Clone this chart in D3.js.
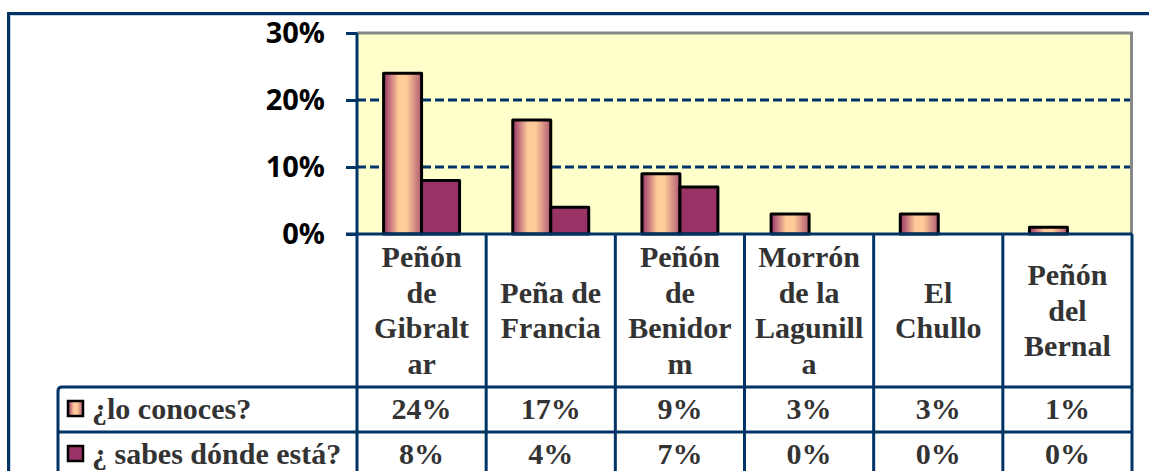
<!DOCTYPE html>
<html>
<head>
<meta charset="utf-8">
<script src="https://cdn.jsdelivr.net/npm/d3@7"></script>
<style>
  html, body { margin: 0; padding: 0; background: #fff; }
  svg { display: block; }
</style>
</head>
<body>
<div id="container"></div>
<script>
/* DATA */
const categories = ["Peñón de Gibraltar", "Peña de Francia", "Peñón de Benidorm", "Morrón de la Lagunilla", "El Chullo", "Peñón del Bernal"];
// how each category label wraps inside its cell
const categoryLines = [
  ["Peñón", "de", "Gibralt", "ar"],
  ["Peña de", "Francia"],
  ["Peñón", "de", "Benidor", "m"],
  ["Morrón", "de la", "Lagunill", "a"],
  ["El", "Chullo"],
  ["Peñón", "del", "Bernal"]
];
const seriesNames = ["¿lo conoces?", "¿ sabes dónde está?"];
const conoces = [0.24, 0.17, 0.09, 0.03, 0.03, 0.01];
const sabes = [0.08, 0.04, 0.07, 0, 0, 0];
const yTicks = [0, 0.1, 0.2, 0.3];

/* CONSTANTS */
const width = 1149, height = 471;
const plot = {left: 357, right: 1132, top: 33, bottom: 234};
const rowTops = [387, 432, 480];
const navy = "#003366";
const textGray = "#333333";
const serif = "'Liberation Serif', 'Times New Roman', serif";

const svg = d3.select("#container").append("svg")
  .attr("width", width)
  .attr("height", height);

const defs = svg.append("defs");
const grad = defs.append("linearGradient").attr("id", "peach")
  .attr("x1", "0%").attr("x2", "100%").attr("y1", "0%").attr("y2", "0%");
grad.append("stop").attr("offset", "0%").attr("stop-color", "#993366");
grad.append("stop").attr("offset", "40%").attr("stop-color", "#FFCC99");
grad.append("stop").attr("offset", "60%").attr("stop-color", "#FFCC99");
grad.append("stop").attr("offset", "100%").attr("stop-color", "#B05A72");

const seriesFill = ["url(#peach)", "#993366"];

/* SCALES */
const x0 = d3.scaleBand()
  .domain(categories)
  .range([plot.left, plot.right])
  .padding(0);

const x1 = d3.scaleBand()
  .domain(seriesNames)
  .range([0, x0.bandwidth()])
  .paddingInner(0)
  .paddingOuter(0.7);

const y = d3.scaleLinear()
  .domain([0, 0.3])
  .range([plot.bottom, plot.top]);

/* OUTER FRAME */
svg.append("path")
  .attr("d", `M8.5,${height + 5} V13.5 H${width + 5}`)
  .attr("fill", "none")
  .attr("stroke", navy)
  .attr("stroke-width", 3);
svg.append("path")
  .attr("d", `M10.5,${height + 5} V15.5 H${width + 5}`)
  .attr("fill", "none")
  .attr("stroke", "#c8d2dc")
  .attr("stroke-width", 1);

/* PLOT AREA */
svg.append("rect")
  .attr("x", plot.left)
  .attr("y", plot.top)
  .attr("width", plot.right - plot.left)
  .attr("height", plot.bottom - plot.top)
  .attr("fill", "#FFFFCC");

svg.append("path")
  .attr("d", `M${plot.left},${plot.top} H${plot.right - 0.5} V${plot.bottom}`)
  .attr("fill", "none")
  .attr("stroke", "#888888")
  .attr("stroke-width", 3);

// dashed gridlines
svg.append("g")
  .selectAll("line")
  .data(yTicks.filter(t => t > 0 && t < 0.3))
  .join("line")
  .attr("x1", plot.left)
  .attr("x2", plot.right - 2)
  .attr("y1", d => y(d))
  .attr("y2", d => y(d))
  .attr("stroke", navy)
  .attr("stroke-width", 3)
  .attr("stroke-dasharray", "9,4");

/* BARS */
const groups = svg.append("g")
  .selectAll("g")
  .data(categories)
  .join("g")
  .attr("transform", d => `translate(${x0(d)},0)`);

groups.selectAll("rect")
  .data((d, i) => [
    {s: seriesNames[0], v: conoces[i], k: 0},
    {s: seriesNames[1], v: sabes[i], k: 1}
  ].filter(e => e.v > 0))
  .join("rect")
  .attr("x", d => x1(d.s))
  .attr("y", d => y(d.v))
  .attr("width", x1.bandwidth())
  .attr("height", d => y(0) - y(d.v))
  .attr("fill", d => seriesFill[d.k])
  .attr("stroke", "#000")
  .attr("stroke-width", 3)
  .attr("stroke-linejoin", "round");

/* Y AXIS */
const yAxis = d3.axisLeft(y)
  .tickValues(yTicks)
  .tickFormat(d3.format(".0%"))
  .tickSize(11)
  .tickPadding(21);

const yAxisG = svg.append("g")
  .attr("transform", `translate(${plot.left},0)`)
  .call(yAxis);
yAxisG.select(".domain").remove();
yAxisG.selectAll(".tick line").attr("stroke", navy).attr("stroke-width", 3);
yAxisG.selectAll(".tick text")
  .attr("fill", "#000")
  .attr("font-family", "'Open Sans', Lato, sans-serif")
  .attr("font-weight", "bold")
  .attr("font-size", 29)
  .attr("dy", "0.34em");

/* DATA TABLE */
const table = svg.append("g");
const lineH = 35.5;

// category cells
table.append("g")
  .selectAll("text")
  .data(categories)
  .join("text")
  .attr("x", d => x0(d) + x0.bandwidth() / 2)
  .attr("text-anchor", "middle")
  .attr("font-family", serif)
  .attr("font-weight", "bold")
  .attr("font-size", 30)
  .attr("fill", textGray)
  .each(function(d, i) {
    const lines = categoryLines[i];
    d3.select(this).selectAll("tspan")
      .data(lines)
      .join("tspan")
      .attr("x", x0(d) + x0.bandwidth() / 2)
      .attr("y", (l, j) => 320.5 + (j - (lines.length - 1) / 2) * lineH)
      .text(l => l);
  });

// value rows
const fmt = d3.format(".0%");
[conoces, sabes].forEach((vals, r) => {
  table.append("g")
    .selectAll("text")
    .data(vals)
    .join("text")
    .attr("x", (d, i) => x0(categories[i]) + x0.bandwidth() / 2)
    .attr("y", rowTops[r] + 32)
    .attr("text-anchor", "middle")
    .attr("font-family", serif)
    .attr("font-weight", "bold")
    .attr("font-size", 30)
    .attr("fill", textGray)
    .text(d => fmt(d));

  // legend key + series name
  table.append("rect")
    .attr("x", 68)
    .attr("y", rowTops[r] + 14)
    .attr("width", 15)
    .attr("height", 15)
    .attr("fill", seriesFill[r])
    .attr("stroke", "#000")
    .attr("stroke-width", 2.5);
  table.append("text")
    .attr("x", 92)
    .attr("y", rowTops[r] + 32)
    .attr("font-family", serif)
    .attr("font-weight", "bold")
    .attr("font-size", 30)
    .attr("fill", textGray)
    .text(seriesNames[r]);
});

// table grid lines
const grid = table.append("g")
  .attr("stroke", navy)
  .attr("stroke-width", 3)
  .attr("fill", "none");

// horizontal line along the axis (with the 0% tick)
grid.append("line")
  .attr("x1", plot.left - 11).attr("x2", plot.right)
  .attr("y1", plot.bottom).attr("y2", plot.bottom);

// vertical axis line and column separators
grid.selectAll("line.col")
  .data(categories.map(c => x0(c)).concat([plot.right]))
  .join("line")
  .attr("class", "col")
  .attr("x1", d => d).attr("x2", d => d)
  .attr("y1", (d, i) => i === 0 ? plot.top : plot.bottom)
  .attr("y2", height + 5);

// row lines
grid.selectAll("line.row")
  .data(rowTops.slice(0, 2))
  .join("line")
  .attr("class", "row")
  .attr("x1", (d, i) => i === 0 ? 62 : 58).attr("x2", plot.right)
  .attr("y1", d => d).attr("y2", d => d);

// legend column left border with rounded corner
grid.append("path")
  .attr("d", `M58,${height + 5} V${rowTops[0] + 4} Q58,${rowTops[0]} 62,${rowTops[0]}`);
</script>
</body>
</html>
